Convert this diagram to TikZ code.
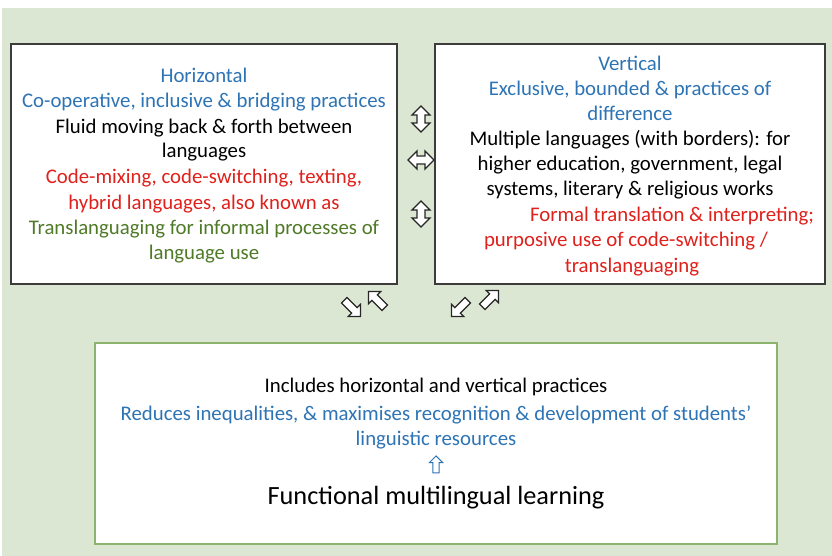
\documentclass[tikz,border=0pt]{standalone}
\usepackage{fontspec}
\setmainfont{Carlito}
\usetikzlibrary{shapes.arrows}
\definecolor{bggreen}{HTML}{DCE7D3}
\definecolor{boxgray}{HTML}{3C3C3C}
\definecolor{boxgreen}{HTML}{8DB46F}
\definecolor{txtblue}{HTML}{2E74B5}
\definecolor{txtred}{HTML}{E0201B}
\definecolor{txtgreen}{HTML}{4F7A28}
\begin{document}
\begin{tikzpicture}[x=1pt,y=-1pt,
  panel/.style={draw=boxgray,line width=1.6pt,fill=white},
  basepanel/.style={draw=boxgreen,line width=2pt,fill=white},
  ln/.style={anchor=base,inner sep=0pt,font=\fontsize{20.8}{24}\selectfont},
  big/.style={anchor=base,inner sep=0pt,font=\fontsize{26.3}{30}\selectfont},
  dblarrow/.style={double arrow,draw=black!85,line width=1.3pt,fill=white,
    inner sep=0pt,inner ysep=3.4pt,minimum height=26pt,minimum width=18pt,
    double arrow head extend=5pt},
  oneway/.style={single arrow,draw=black!85,line width=1.3pt,fill=white,
    inner sep=0pt,inner ysep=3.2pt,minimum height=23pt,minimum width=16pt,
    single arrow head extend=4.8pt},
  smallup/.style={single arrow,draw=txtblue,line width=1pt,fill=white,
    inner sep=0pt,inner ysep=2.6pt,minimum height=17pt,minimum width=13pt,
    single arrow head extend=3.5pt}]
\useasboundingbox (0,0) rectangle (832,556);
\fill[bggreen] (2,8) rectangle (832,556);

% the three panels
\draw[panel] (11,44) rectangle (397,284);
\draw[panel] (435,44) rectangle (825,284);
\draw[basepanel] (95,343) rectangle (777,544);

% horizontal practices
\node[ln,txtblue]  (h1) at (204,83)  {Horizontal};
\node[ln,txtblue]  (h2) at (204,108) {Co-operative, inclusive \& bridging practices};
\node[ln]          (h3) at (204,134) {Fluid moving back \& forth between};
\node[ln]          (h4) at (204,158) {languages};
\node[ln,txtred]   (h5) at (204,184) {Code-mixing, code-switching, texting,};
\node[ln,txtred]   (h6) at (204,209) {hybrid languages, also known as};
\node[ln,txtgreen] (h7) at (204,234) {Translanguaging for informal processes of};
\node[ln,txtgreen] (h8) at (204,259) {language use};

% vertical practices
\node[ln,txtblue]  (v1) at (630,71)  {Vertical};
\node[ln,txtblue]  (v2) at (630,96)  {Exclusive, bounded \& practices of};
\node[ln,txtblue]  (v3) at (630,121) {difference};
\node[ln]          (v4) at (630,146) {Multiple languages (with borders): for};
\node[ln]          (v5) at (630,171) {higher education, government, legal};
\node[ln]          (v6) at (630,196) {systems, literary \& religious works};
\node[ln,txtred]   (v7) at (672,221) {Formal translation \& interpreting;};
\node[ln,txtred]   (v8) at (626,246) {purposive use of code-switching /};
\node[ln,txtred]   (v9) at (632,272) {translanguaging};

% functional multilingual learning
\node[ln]          (f1) at (436,392) {Includes horizontal and vertical practices};
\node[ln,txtblue]  (f2) at (436,420) {Reduces inequalities, \& maximises recognition \& development of students’};
\node[ln,txtblue]  (f3) at (436,445) {linguistic resources};
\node[big]         (f4) at (436,504) {Functional multilingual learning};

% exchange arrows between the panels
\node[dblarrow,rotate=90] (a1) at (421,119) {};
\node[dblarrow] (a2) at (421,160) {};
\node[dblarrow,rotate=90] (a3) at (421,214) {};

% arrows towards the lower panel
\node[oneway,rotate=-45]  (d1) at (351,307) {};
\node[oneway,rotate=135]  (d2) at (378,301) {};
\node[oneway,rotate=-135] (d3) at (461,307) {};
\node[oneway,rotate=45]   (d4) at (489,300) {};

\node[smallup,rotate=90] (u1) at (436,466) {};
\end{tikzpicture}
\end{document}
